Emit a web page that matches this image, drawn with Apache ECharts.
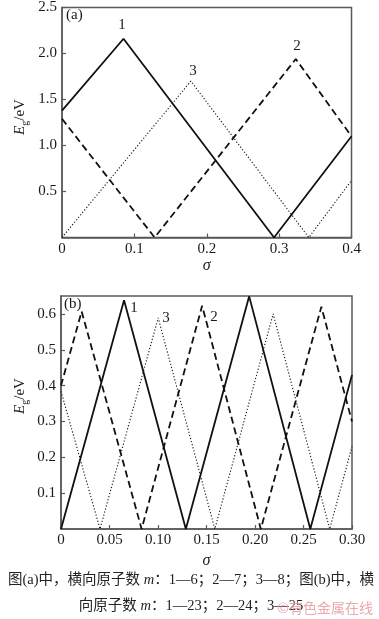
<!DOCTYPE html>
<html>
<head>
<meta charset="utf-8">
<script src="https://cdn.jsdelivr.net/npm/echarts@6/dist/echarts.min.js"></script>
<style>
html,body{margin:0;padding:0;background:#fff;}
#c{width:379px;height:619px;}
</style>
</head>
<body>
<div id="c"></div>
<script>
// ---- Data (a): m = 6, 7, 8 ----
const xTicksA = [0, 0.1, 0.2, 0.3, 0.4];
const yTicksA = [0.5, 1.0, 1.5, 2.0, 2.5];
const curveA1 = [[0, 1.38], [0.085, 2.16], [0.293, 0], [0.4, 1.10]];
const curveA2 = [[0, 1.29], [0.128, 0], [0.323, 1.94], [0.4, 1.10]];
const curveA3 = [[0, 0], [0.178, 1.70], [0.341, 0], [0.4, 0.62]];

// ---- Data (b): m = 23, 24, 25 ----
const xTicksB = [0, 0.05, 0.10, 0.15, 0.20, 0.25, 0.30];
const yTicksB = [0.1, 0.2, 0.3, 0.4, 0.5, 0.6];
const curveB1 = [[0, 0], [0.065, 0.638], [0.1287, 0], [0.194, 0.649], [0.257, 0], [0.30, 0.43]];
const curveB2 = [[0, 0.40], [0.0213, 0.607], [0.0831, 0], [0.1455, 0.623], [0.206, 0], [0.2684, 0.62], [0.30, 0.30]];
const curveB3 = [[0, 0.384], [0.0402, 0], [0.1002, 0.589], [0.1586, 0], [0.2187, 0.60], [0.277, 0], [0.30, 0.23]];

const yName = '{i|E}{s|g}{n|/eV}';
const captionLine1 = '图(a)中，横向原子数 {i|m}：1—6；2—7；3—8；图(b)中，横';
const captionLine2 = '向原子数 {i|m}：1—23；2—24；3—25';
const watermark = '©有色金属在线';

const FONT = '"Liberation Serif", "Times New Roman", "Noto Sans CJK SC", serif';
const AXIS_COLOR = '#5a5a5a';
const TXT = '#1a1a1a';

function xAxisCfg(gridIndex, max, interval, fmt) {
  return {
    type: 'value', gridIndex, min: 0, max, interval,
    name: 'σ', nameLocation: 'middle', nameGap: 20,
    nameTextStyle: { fontFamily: FONT, fontStyle: 'italic', fontSize: 16, color: TXT },
    axisLine: { show: true, onZero: false, lineStyle: { color: AXIS_COLOR, width: 1.5 } },
    axisTick: { show: true, inside: true, length: 4, lineStyle: { color: AXIS_COLOR, width: 1.2 } },
    axisLabel: { fontFamily: FONT, fontSize: 15, color: TXT, margin: 4, formatter: fmt },
    splitLine: { show: false }
  };
}
function yAxisCfg(gridIndex, max, interval, showMax) {
  return {
    type: 'value', gridIndex, min: 0, max, interval,
    axisLine: { show: true, onZero: false, lineStyle: { color: AXIS_COLOR, width: 1.5 } },
    axisTick: { show: true, inside: true, length: 4, lineStyle: { color: AXIS_COLOR, width: 1.2 } },
    axisLabel: { fontFamily: FONT, fontSize: 15, color: TXT, margin: 5, showMinLabel: false, showMaxLabel: showMax,
      formatter: v => v.toFixed(1) },
    splitLine: { show: false }
  };
}
function lineSeries(xi, data, kind) {
  const ls = { color: '#111', width: 1.8, type: 'solid' };
  if (kind === 'dash') { ls.type = [7, 4]; ls.width = 1.8; }
  if (kind === 'dot') { ls.type = [1.2, 2]; ls.width = 1.1; }
  return { type: 'line', xAxisIndex: xi, yAxisIndex: xi, data, showSymbol: false, symbol: 'none',
    lineStyle: ls, animation: false, silent: true };
}
const yNameRich = {
  i: { fontFamily: FONT, fontStyle: 'italic', fontSize: 15, lineHeight: 20, fill: TXT, verticalAlign: 'middle' },
  s: { fontFamily: FONT, fontSize: 10, lineHeight: 10, fill: TXT, verticalAlign: 'bottom' },
  n: { fontFamily: FONT, fontSize: 15, lineHeight: 20, fill: TXT, verticalAlign: 'middle' }
};

const chart = echarts.init(document.getElementById('c'), null, { renderer: 'canvas' });
chart.setOption({
  backgroundColor: '#fff',
  animation: false,
  grid: [
    { left: 62, top: 5, width: 289.5, height: 232.5, show: true, borderColor: AXIS_COLOR, borderWidth: 1.5, backgroundColor: 'transparent' },
    { left: 61, top: 296, width: 291, height: 233, show: true, borderColor: AXIS_COLOR, borderWidth: 1.5, backgroundColor: 'transparent' }
  ],
  xAxis: [
    xAxisCfg(0, 0.4, 0.1, v => (v === 0 ? '0' : v.toFixed(1))),
    Object.assign(xAxisCfg(1, 0.30, 0.05, v => (v === 0 ? '0' : v.toFixed(2))), { nameGap: 24 })
  ],
  yAxis: [
    yAxisCfg(0, 2.5, 0.5, true),
    yAxisCfg(1, 0.65, 0.1, false)
  ],
  series: [
    lineSeries(0, curveA1, 'solid'),
    lineSeries(0, curveA2, 'dash'),
    lineSeries(0, curveA3, 'dot'),
    lineSeries(1, curveB1, 'solid'),
    lineSeries(1, curveB2, 'dash'),
    lineSeries(1, curveB3, 'dot')
  ],
  graphic: [
    { type: 'text', x: 20, y: 117, rotation: Math.PI / 2, style: { text: yName, align: 'center', verticalAlign: 'middle', font: '15px ' + FONT, fill: TXT, rich: yNameRich } },
    { type: 'text', x: 20, y: 396, rotation: Math.PI / 2, style: { text: yName, align: 'center', verticalAlign: 'middle', font: '15px ' + FONT, fill: TXT, rich: yNameRich } },
    { type: 'text', left: 66, top: 8, style: { text: '(a)', font: '15px ' + FONT, fill: TXT } },
    { type: 'text', x: 122, y: 25, style: { text: '1', font: '15px ' + FONT, fill: TXT, align: 'center', verticalAlign: 'middle' } },
    { type: 'text', x: 297, y: 46, style: { text: '2', font: '15px ' + FONT, fill: TXT, align: 'center', verticalAlign: 'middle' } },
    { type: 'text', x: 193, y: 71, style: { text: '3', font: '15px ' + FONT, fill: TXT, align: 'center', verticalAlign: 'middle' } },
    { type: 'text', left: 64, top: 297, style: { text: '(b)', font: '15px ' + FONT, fill: TXT } },
    { type: 'text', x: 134, y: 308, style: { text: '1', font: '15px ' + FONT, fill: TXT, align: 'center', verticalAlign: 'middle' } },
    { type: 'text', x: 166, y: 318, style: { text: '3', font: '15px ' + FONT, fill: TXT, align: 'center', verticalAlign: 'middle' } },
    { type: 'text', x: 214, y: 317, style: { text: '2', font: '15px ' + FONT, fill: TXT, align: 'center', verticalAlign: 'middle' } },
    { type: 'text', x: 191, y: 580, style: { text: captionLine1, font: '14.5px ' + FONT, fill: '#222', align: 'center', verticalAlign: 'middle',
      rich: { i: { fontFamily: FONT, fontStyle: 'italic', fontSize: 14.5, fill: '#222' } } } },
    { type: 'text', x: 191, y: 606, style: { text: captionLine2, font: '14.5px ' + FONT, fill: '#222', align: 'center', verticalAlign: 'middle',
      rich: { i: { fontFamily: FONT, fontStyle: 'italic', fontSize: 14.5, fill: '#222' } } } },
    { type: 'text', x: 373, y: 608, z: 10, style: { text: watermark, font: '14px "Noto Sans CJK SC", sans-serif', fill: 'rgba(232,150,162,0.85)', align: 'right', verticalAlign: 'middle' } }
  ]
});
</script>
</body>
</html>
